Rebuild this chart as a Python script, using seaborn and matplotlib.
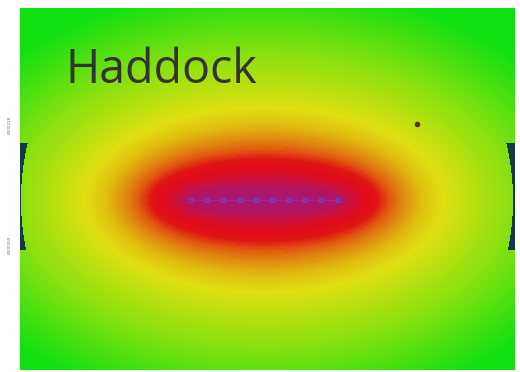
import numpy as np
import pandas as pd
import seaborn as sns
import matplotlib
matplotlib.use("Agg")
import matplotlib.pyplot as plt
from matplotlib.colors import LinearSegmentedColormap

sns.set_theme(style="white")

# Map extent in metres (1 unit per metre, grid cell = 1 m)
map_width = 495
map_height = 362
cell = 1

# Piling / source positions along the line (x, y in metres)
source_x = [171, 187, 203, 220, 236, 252, 269, 285, 301, 318]
source_y = [192, 192, 192, 192, 192, 192, 192, 192, 192, 192]

# Receiver station
receiver_x = [397]
receiver_y = [116]

# Colour stops against cross-line distance of the impact contour (m)
stop_dist = [0, 12, 22, 30, 40, 50, 62, 76, 92, 122, 162, 215]
stop_colors = ["#a41a74", "#b4145e", "#d01038", "#e00c1c", "#e01414", "#e05a0f",
               "#e09010", "#e0c010", "#dfe010", "#b0e010", "#6ee010", "#10e010"]

# Contour family: along-line semi-axis = base + growth * cross-line semi-axis
axis_base = 61.0
axis_growth = 1.28

# Model coverage radius around the array
cover_radius = 246
cover_centre = 247

# Axis tick labels (northing)
ytick_pos = [117, 237]
ytick_labels = ["6000018", "6000059"]

# ---- field --------------------------------------------------------------
nx = map_width // cell
ny = map_height // cell
xc = (np.arange(nx) + 0.5) * cell
yc = (np.arange(ny) + 0.5) * cell
X, Y = np.meshgrid(xc, yc)

line_mid = np.mean(source_x)
adx = np.abs(X - line_mid)
dy = Y - source_y[0]

# find the contour ellipse through each cell by bisection on its minor axis
lo = np.full(X.shape, 1e-6)
hi = np.full(X.shape, 600.0)
for _ in range(40):
    b = 0.5 * (lo + hi)
    f = (adx / (axis_base + axis_growth * b)) ** 2 + (dy / b) ** 2 - 1
    lo = np.where(f > 0, b, lo)
    hi = np.where(f > 0, hi, b)
dist = 0.5 * (lo + hi)

outside = (np.hypot(X - cover_centre, dy) > cover_radius) & (dy > -57) & (dy < 50)

cmap = LinearSegmentedColormap.from_list(
    "impact", list(zip(np.array(stop_dist) / stop_dist[-1], stop_colors)), N=96)

field = pd.DataFrame(np.clip(dist, 0, stop_dist[-1]))

fig = plt.figure(figsize=(5.2, 3.72), dpi=100)
ax = fig.add_axes([20 / 520, 2 / 372, 495 / 520, 362 / 372])
ax.set_facecolor("#153a45")
sns.heatmap(field, mask=outside, cmap=cmap, vmin=0, vmax=stop_dist[-1],
            cbar=False, ax=ax, xticklabels=False, yticklabels=False,
            rasterized=True)

# source line and positions
sx = np.array(source_x) / cell
sy = np.array(source_y) / cell
ax.plot(sx, sy, color="#7a5ad8", lw=0.5, alpha=0.45)
ax.scatter(sx, sy, marker="s", s=5, facecolor="#8a2a9a", edgecolor="#5060e8",
           linewidth=0.5, alpha=0.8, zorder=3)

ax.scatter(np.array(receiver_x) / cell, np.array(receiver_y) / cell, marker="o",
           s=9, color="#5a2e22", zorder=3)

ax.set_yticks(np.array(ytick_pos) / cell)
ax.set_yticklabels(ytick_labels, rotation=90, fontsize=3, color="#777777",
                   va="center")
ax.tick_params(axis="y", length=0, pad=6)
for s in ax.spines.values():
    s.set_visible(False)

fig.text(65 / 520, 1 - 83 / 372, "Haddock", fontsize=33.5, color="#333333",
         family=["Open Sans", "DejaVu Sans"], ha="left", va="baseline")

fig.savefig("out.png", dpi=100)
